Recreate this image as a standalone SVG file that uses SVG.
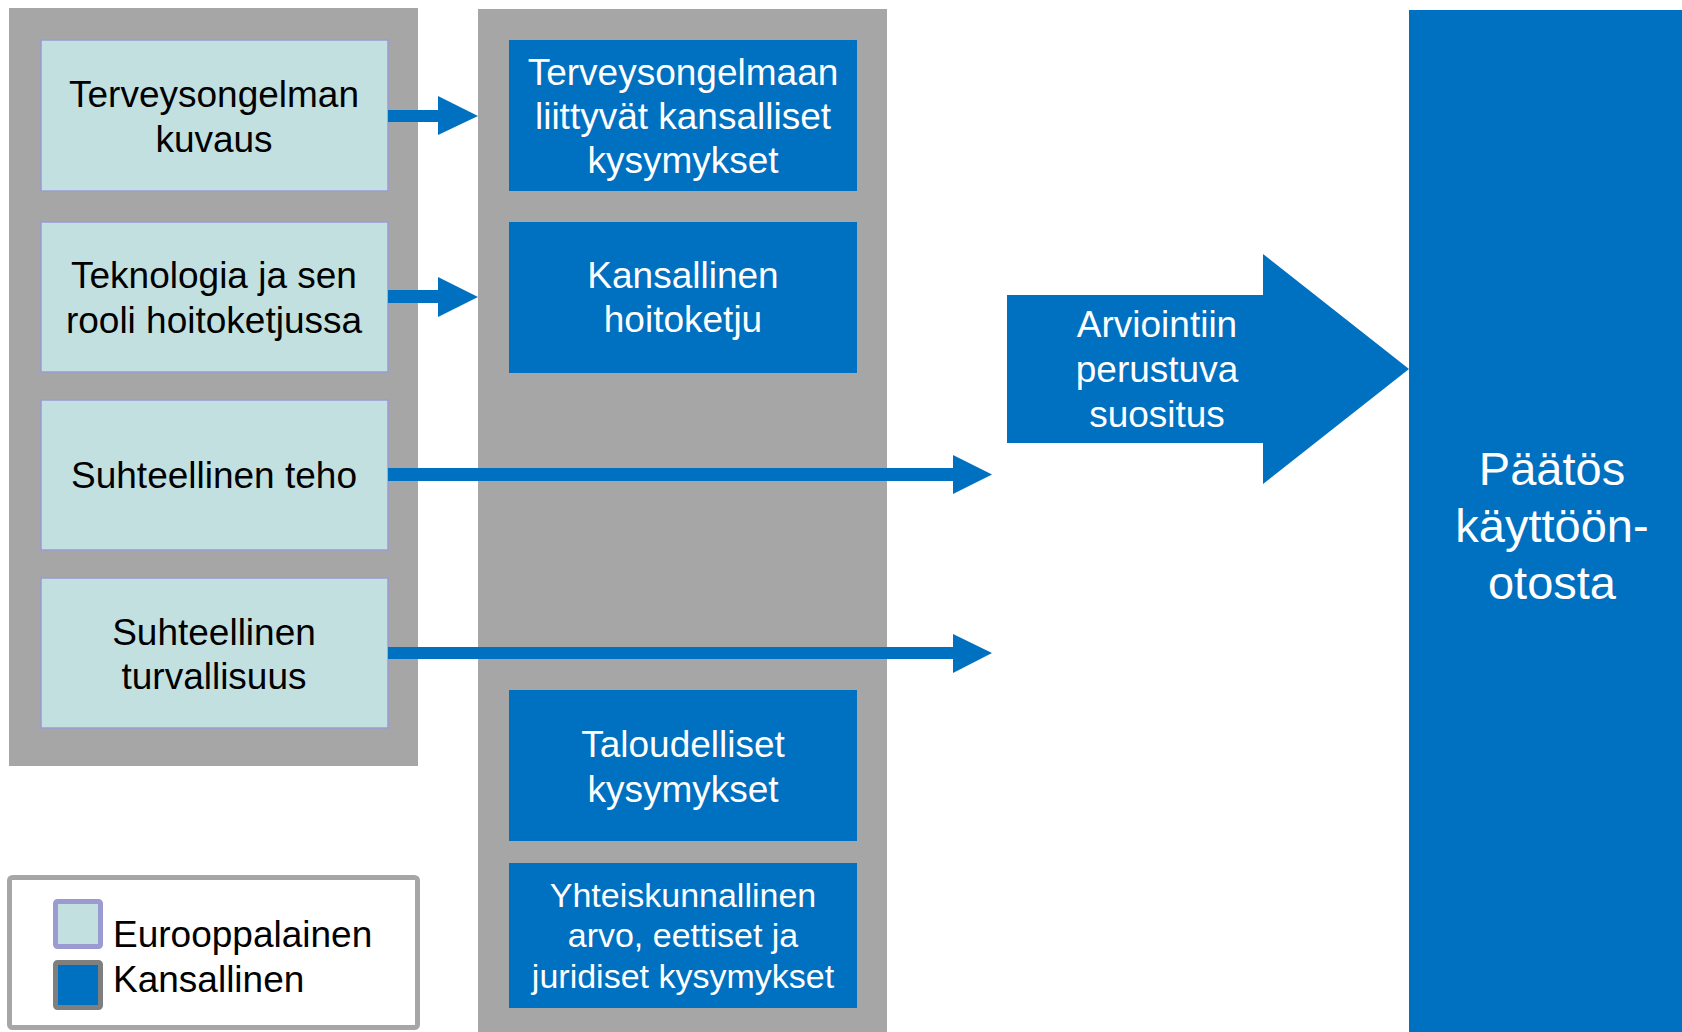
<svg xmlns="http://www.w3.org/2000/svg" width="1682" height="1032" viewBox="0 0 1682 1032">
<style>
.panel{fill:#a6a6a6}
.eu{fill:#c2e0e0;stroke:#9b9bd2;stroke-width:1.5}
.nat{fill:#0070c0}
text{font-family:"Liberation Sans",Arial,sans-serif;font-size:37px;text-anchor:middle}
.dk{fill:#000}
.wt{fill:#fff}
.arr{fill:#0070c0}
</style>
<rect width="1682" height="1032" fill="#fff"/>
<g id="left-panel"><rect class="panel" x="9" y="8" width="409" height="758"/></g>
<g id="middle-panel"><rect class="panel" x="478" y="9" width="409" height="1023"/></g>

<g id="eu-terveysongelma">
<rect class="eu" x="41" y="40" width="347" height="151"/>
<text class="dk" x="214" y="107">Terveysongelman</text>
<text class="dk" x="214" y="152">kuvaus</text>
</g>
<g id="eu-teknologia">
<rect class="eu" x="41" y="222" width="347" height="150"/>
<text class="dk" x="214" y="288">Teknologia ja sen</text>
<text class="dk" x="214" y="333">rooli hoitoketjussa</text>
</g>
<g id="eu-teho">
<rect class="eu" x="41" y="400" width="347" height="150"/>
<text class="dk" x="214" y="488">Suhteellinen teho</text>
</g>
<g id="eu-turvallisuus">
<rect class="eu" x="41" y="578" width="347" height="150"/>
<text class="dk" x="214" y="645">Suhteellinen</text>
<text class="dk" x="214" y="689">turvallisuus</text>
</g>

<g id="nat-kysymykset">
<rect class="nat" x="509" y="40" width="348" height="151"/>
<text class="wt" x="683" y="85">Terveysongelmaan</text>
<text class="wt" x="683" y="129">liittyvät kansalliset</text>
<text class="wt" x="683" y="173">kysymykset</text>
</g>
<g id="nat-hoitoketju">
<rect class="nat" x="509" y="222" width="348" height="151"/>
<text class="wt" x="683" y="288">Kansallinen</text>
<text class="wt" x="683" y="332">hoitoketju</text>
</g>
<g id="nat-talous">
<rect class="nat" x="509" y="690" width="348" height="151"/>
<text class="wt" x="683" y="757">Taloudelliset</text>
<text class="wt" x="683" y="802">kysymykset</text>
</g>
<g id="nat-yhteiskunta">
<rect class="nat" x="509" y="863" width="348" height="145"/>
<text class="wt" x="683" y="907" style="font-size:34px">Yhteiskunnallinen</text>
<text class="wt" x="683" y="947" style="font-size:34px">arvo, eettiset ja</text>
<text class="wt" x="683" y="988" style="font-size:34px">juridiset kysymykset</text>
</g>

<g id="connectors">
<polygon class="arr" points="388,110 438,110 438,96 478,116 438,135 438,122 388,122"/>
<polygon class="arr" points="388,290 438,290 438,277 478,297 438,317 438,303 388,303"/>
<polygon class="arr" points="388,468 953,468 953,455 992,474.5 953,494 953,481 388,481"/>
<polygon class="arr" points="388,647 953,647 953,634 992,653 953,673 953,659 388,659"/>
</g>

<g id="suositus">
<polygon class="arr" points="1007,295 1263,295 1263,254 1409,369 1263,484 1263,443 1007,443"/>
<text class="wt" x="1157" y="337">Arviointiin</text>
<text class="wt" x="1157" y="382">perustuva</text>
<text class="wt" x="1157" y="427">suositus</text>
</g>

<g id="paatos">
<rect class="nat" x="1409" y="10" width="273" height="1022"/>
<text class="wt" x="1552" y="485" style="font-size:47px">Päätös</text>
<text class="wt" x="1552" y="542" style="font-size:47px">käyttöön-</text>
<text class="wt" x="1552" y="599" style="font-size:47px">otosta</text>
</g>

<g id="legend">
<rect x="9.5" y="877.5" width="408" height="150" rx="3" fill="#fff" stroke="#a6a6a6" stroke-width="5"/>
<rect x="55.5" y="901.5" width="45" height="45" rx="2" fill="#c2e0e0" stroke="#9b9bd2" stroke-width="5"/>
<rect x="55.5" y="962.5" width="45" height="45" rx="2" fill="#0070c0" stroke="#7f7f7f" stroke-width="5"/>
<text class="dk" x="113" y="947" style="text-anchor:start">Eurooppalainen</text>
<text class="dk" x="113" y="992" style="text-anchor:start">Kansallinen</text>
</g>
</svg>
